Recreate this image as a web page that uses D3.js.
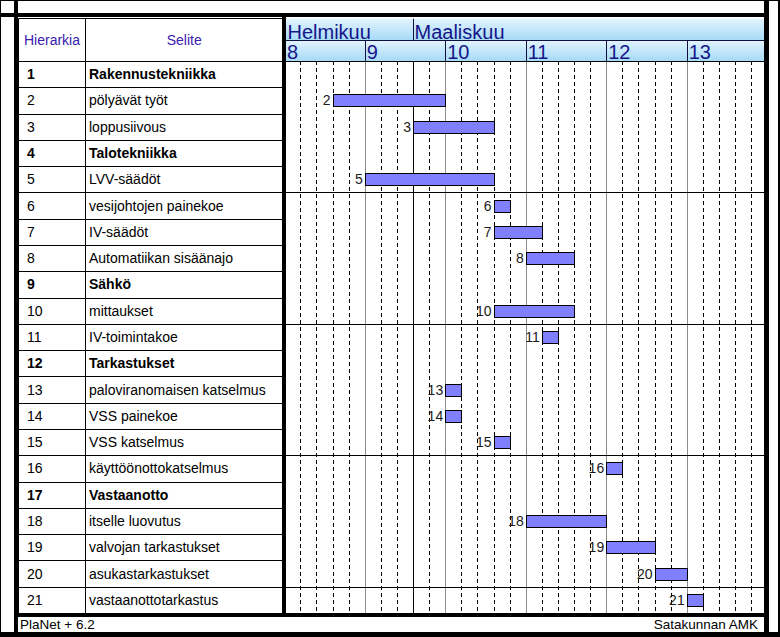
<!DOCTYPE html>
<html><head><meta charset="utf-8">
<script src="https://cdn.jsdelivr.net/npm/d3@7"></script>
<style>body{margin:0;background:#fff}svg{display:block;font-family:Arial,"Liberation Sans",sans-serif}</style>
</head><body><svg id="c" width="780" height="637"></svg>
<script>
// ---- data ----
const hierarchy = [1,2,3,4,5,6,7,8,9,10,11,12,13,14,15,16,17,18,19,20,21];
const taskNames = ["Rakennustekniikka","pölyävät työt","loppusiivous","Talotekniikka","LVV-säädöt",
  "vesijohtojen painekoe","IV-säädöt","Automatiikan sisäänajo","Sähkö","mittaukset","IV-toimintakoe",
  "Tarkastukset","paloviranomaisen katselmus","VSS painekoe","VSS katselmus","käyttöönottokatselmus",
  "Vastaanotto","itselle luovutus","valvojan tarkastukset","asukastarkastukset","vastaanottotarkastus"];
const summaryRows = [1,4,9,12,17];
const taskIds   = [2,3,5,6,7,8,10,11,13,14,15,16,18,19,20,21];
const taskStart = [3,8,5,13,13,15,13,16,10,10,13,20,15,20,23,25];   // workday index from Mon of week 8
const taskEnd   = [10,13,13,14,16,18,18,17,11,11,14,21,20,23,25,26];
const weekLabels = ["8","9","10","11","12","13"];
const monthLabels = ["Helmikuu","Maaliskuu"];
const monthStartDay = [-1, 8];
const daysPerWeek = 5;
const groupEvery = 5;

// ---- layout ----
const svg = d3.select("#c");
const W = 780, H = 637;
const tableL = 18.5, colDiv = 85.5, tableR = 283;
const chartL = 286, chartR = 764;
const headTop = 18.5, monthBot = 40.5, headBot = 61;
const bodyBot = 613;

const nDays = weekLabels.length * daysPerWeek;
const x = d3.scaleLinear().domain([0, nDays]).range([284.2, 284.2 + nDays * 16.1]);
const y = d3.scaleBand().domain(hierarchy).range([headBot, bodyBot]).padding(0);

const defs = svg.append("defs");
const grad = defs.append("linearGradient").attr("id","hg").attr("x1",0).attr("y1",0).attr("x2",0).attr("y2",1);
grad.append("stop").attr("offset","0%").attr("stop-color","#e2f4fd");
grad.append("stop").attr("offset","100%").attr("stop-color","#a6daf7");
defs.append("clipPath").attr("id","cc").append("rect")
  .attr("x",chartL).attr("y",headTop).attr("width",chartR-chartL).attr("height",bodyBot-headTop);

svg.append("rect").attr("width",W).attr("height",H).attr("fill","#fff");

// ---- chart header ----
const ch = svg.append("g").attr("clip-path","url(#cc)");
ch.append("rect").attr("x",chartL).attr("y",headTop).attr("width",chartR-chartL).attr("height",monthBot-headTop).attr("fill","url(#hg)");
ch.append("rect").attr("x",chartL).attr("y",monthBot).attr("width",chartR-chartL).attr("height",headBot-monthBot).attr("fill","url(#hg)");

// vertical grid in body
const days = d3.range(1, nDays);
ch.selectAll("line.grid").data(days).join("line")
  .attr("class","grid")
  .attr("x1", d => Math.round(x(d)) + 0.5).attr("x2", d => Math.round(x(d)) + 0.5)
  .attr("y1", headBot).attr("y2", bodyBot)
  .attr("stroke", d => monthStartDay.includes(d) ? "#000" : (d % daysPerWeek === 0 ? "#8c8c8c" : "#000"))
  .attr("stroke-dasharray", d => (monthStartDay.includes(d) || d % daysPerWeek === 0) ? null : "4,3")
  .attr("stroke-width", 1);

// group separators
const seps = hierarchy.filter(h => h % groupEvery === 0 && h < hierarchy.length);
ch.selectAll("line.sep").data(seps).join("line")
  .attr("x1", chartL).attr("x2", chartR)
  .attr("y1", d => Math.round(y(d) + y.bandwidth()) + 0.5).attr("y2", d => Math.round(y(d) + y.bandwidth()) + 0.5)
  .attr("stroke","#000");

// header lines
ch.append("line").attr("x1",chartL).attr("x2",chartR).attr("y1",monthBot).attr("y2",monthBot).attr("stroke","#101040");
ch.append("line").attr("x1",chartL).attr("x2",chartR).attr("y1",headBot+0.5).attr("y2",headBot+0.5).attr("stroke","#000");
ch.selectAll("line.wk").data(d3.range(1, weekLabels.length)).join("line")
  .attr("x1", i => Math.round(x(i*daysPerWeek))+0.5).attr("x2", i => Math.round(x(i*daysPerWeek))+0.5)
  .attr("y1", monthBot).attr("y2", headBot).attr("stroke","#101040");
ch.selectAll("line.mo").data(monthStartDay.filter(d => d > 0)).join("line")
  .attr("x1", d => Math.round(x(d))+0.5).attr("x2", d => Math.round(x(d))+0.5)
  .attr("y1", headTop).attr("y2", monthBot).attr("stroke","#101040");

ch.selectAll("text.mo").data(monthLabels).join("text")
  .attr("x", (d,i) => Math.max(chartL + 1.5, x(monthStartDay[i]) + 1.5))
  .attr("y", 38.5).attr("font-size", 20).attr("fill", "#16168a").text(d => d);
ch.selectAll("text.wk").data(weekLabels).join("text")
  .attr("x", (d,i) => Math.max(chartL + 1, x(i*daysPerWeek) + 2))
  .attr("y", 59.3).attr("font-size", 20).attr("fill", "#16168a").text(d => d);

// bars
const tasks = taskIds.map((id,i) => ({id, s: taskStart[i], e: taskEnd[i]}));
const bh = 12;
ch.selectAll("rect.bar").data(tasks).join("rect")
  .attr("x", d => Math.round(x(d.s)) + 0.5)
  .attr("y", d => Math.round(y(d.id) + y.bandwidth()/2 - bh/2) + 0.5)
  .attr("width", d => Math.round(x(d.e)) - Math.round(x(d.s)))
  .attr("height", bh)
  .attr("fill", "#8080ff").attr("stroke", "#000").attr("stroke-width", 1);
ch.selectAll("text.bl").data(tasks).join("text")
  .attr("x", d => x(d.s) - 2)
  .attr("y", d => y(d.id) + y.bandwidth()/2 + 5)
  .attr("text-anchor","end").attr("font-size", 14).attr("fill","#1a1a1a").text(d => d.id);

// ---- table ----
const tb = svg.append("g");
tb.selectAll("line.row").data(hierarchy).join("line")
  .attr("x1", tableL).attr("x2", tableR)
  .attr("y1", d => Math.round(y(d)) + 0.5).attr("y2", d => Math.round(y(d)) + 0.5)
  .attr("stroke", "#000");
tb.append("line").attr("x1",tableL).attr("x2",tableR).attr("y1",headTop).attr("y2",headTop).attr("stroke","#000");
tb.append("line").attr("x1",tableL).attr("x2",tableL).attr("y1",headTop).attr("y2",bodyBot).attr("stroke","#000");
tb.append("line").attr("x1",colDiv).attr("x2",colDiv).attr("y1",headTop).attr("y2",bodyBot).attr("stroke","#000");
tb.append("text").attr("x",(tableL+colDiv)/2).attr("y",45).attr("text-anchor","middle")
  .attr("font-size",14).attr("fill","#3a20b0").text("Hierarkia");
tb.append("text").attr("x",(colDiv+tableR)/2).attr("y",45).attr("text-anchor","middle")
  .attr("font-size",14).attr("fill","#3a20b0").text("Selite");
tb.selectAll("text.num").data(hierarchy).join("text")
  .attr("x", 27).attr("y", d => y(d) + y.bandwidth()/2 + 5)
  .attr("font-size", 14).attr("font-weight", d => summaryRows.includes(d) ? "bold" : "normal")
  .attr("fill","#000").text(d => d);
tb.selectAll("text.nm").data(hierarchy).join("text")
  .attr("x", 89).attr("y", d => y(d) + y.bandwidth()/2 + 5)
  .attr("font-size", 14).attr("font-weight", d => summaryRows.includes(d) ? "bold" : "normal")
  .attr("fill","#000").text((d,i) => taskNames[i]);

// ---- frame ----
const fr = svg.append("g").attr("fill","#000");
fr.append("rect").attr("x",0).attr("y",0).attr("width",W).attr("height",1);
fr.append("rect").attr("x",0).attr("y",0).attr("width",1).attr("height",H);
fr.append("rect").attr("x",778).attr("y",0).attr("width",2).attr("height",H);
fr.append("rect").attr("x",0).attr("y",632).attr("width",W).attr("height",5);
fr.append("rect").attr("x",14).attr("y",0).attr("width",4).attr("height",632);
fr.append("rect").attr("x",764).attr("y",0).attr("width",5).attr("height",632);
fr.append("rect").attr("x",0).attr("y",13).attr("width",769).attr("height",4);
fr.append("rect").attr("x",14).attr("y",613).attr("width",755).attr("height",4);
fr.append("rect").attr("x",282).attr("y",17).attr("width",4).attr("height",596);

svg.append("text").attr("x",20).attr("y",629).attr("font-size",13.5).attr("fill","#000").text("PlaNet + 6.2");
svg.append("text").attr("x",758).attr("y",628.5).attr("text-anchor","end").attr("font-size",13.5).attr("fill","#000").text("Satakunnan AMK");
</script></body></html>
